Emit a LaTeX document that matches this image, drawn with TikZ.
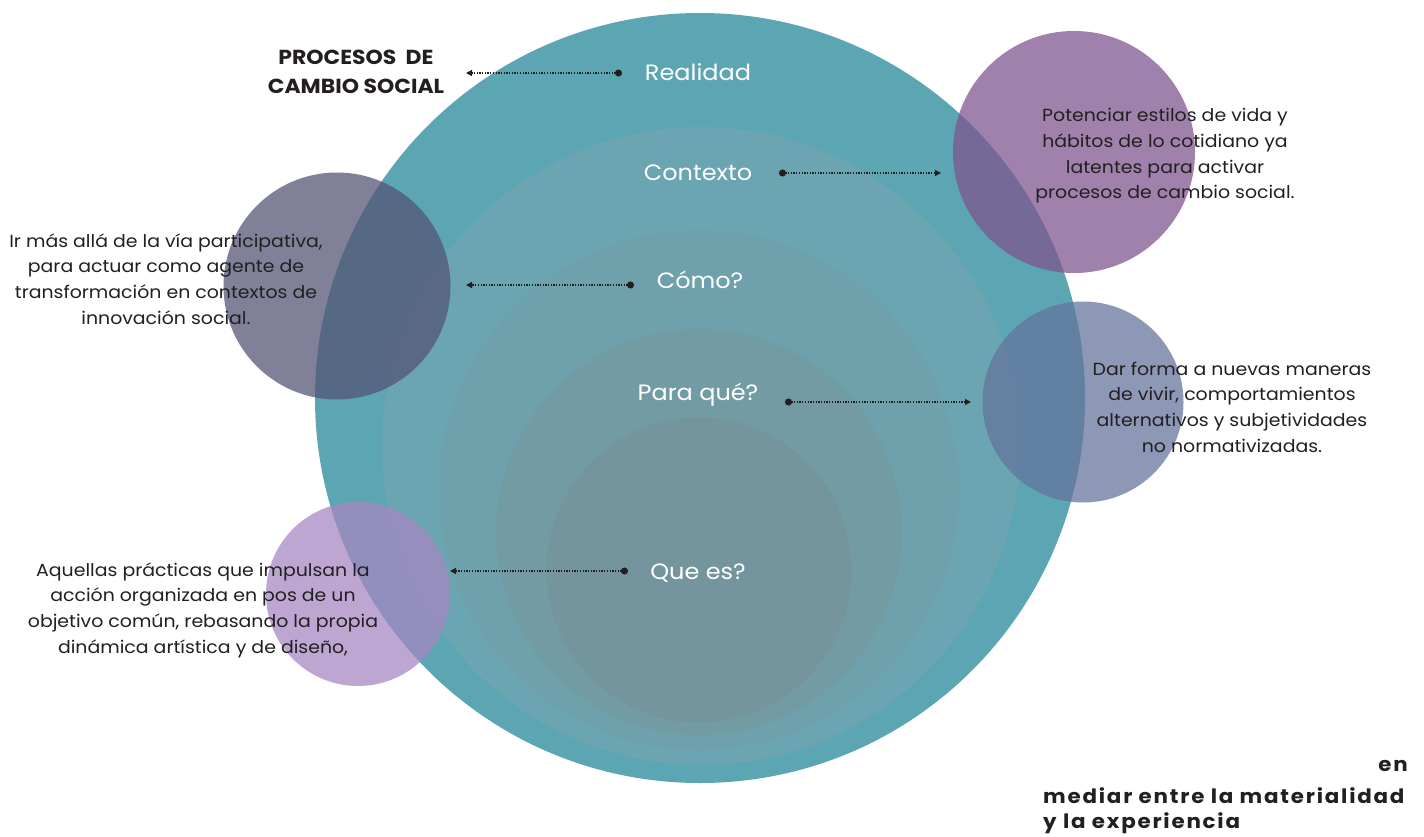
\documentclass[tikz,border=0pt]{standalone}
\usepackage{fontspec}
\setmainfont{Poppins}[FakeStretch=1.08]
\usetikzlibrary{arrows.meta}
\definecolor{tealA}{HTML}{5CA6B4}
\definecolor{tealB}{HTML}{6BA5B1}
\definecolor{tealC}{HTML}{6FA1AC}
\definecolor{tealD}{HTML}{729BA4}
\definecolor{tealE}{HTML}{74959D}
\definecolor{slate}{RGB}{83,85,117}
\definecolor{plum}{RGB}{126,85,142}
\definecolor{steel}{RGB}{101,116,156}
\definecolor{lav}{RGB}{166,135,194}
\definecolor{ink}{HTML}{231F20}
\begin{document}
\begin{tikzpicture}[x=1pt,y=-1pt,
  layer/.style={circle,inner sep=0pt,minimum size=#1,draw=none},
  sat/.style={circle,inner sep=0pt,minimum size=#1,draw=none,fill opacity=0.74},
  lbl/.style={text=white,font=\fontsize{22.2}{26}\selectfont,inner sep=0pt},
  body/.style={text=ink,align=center,font=\fontsize{17.5}{25.7}\selectfont,inner sep=0pt},
  tail/.style={text=ink,font=\fontsize{19.8}{25.5}\selectfont\bfseries\addfontfeatures{LetterSpace=9},inner sep=0pt},
  conn/.style={draw=ink,line width=1.3pt,dash pattern=on 1.3pt off 1.4pt,
    {Circle[length=7pt,width=7pt]}-{Triangle[length=6pt,width=6pt]}}]
\useasboundingbox (0,0) rectangle (1424,836);
% concentric layers
\node[layer=770pt,fill=tealA] (realidad) at (700,398) {};
\node[layer=638pt,fill=tealB] (contexto) at (701,446) {};
\node[layer=520pt,fill=tealC] (como) at (699,490) {};
\node[layer=406pt,fill=tealD] (paraque) at (699,532) {};
\node[layer=305pt,fill=tealE] (quees) at (699,570) {};
% satellite circles
\node[sat=227pt,fill=slate] (s1) at (337,286) {};
\node[sat=242pt,fill=plum] (s2) at (1074,152) {};
\node[sat=201pt,fill=steel] (s3) at (1083,402) {};
\node[sat=184pt,fill=lav] (s4) at (358,594) {};
% labels
\node[lbl] (lr) at (698,72) {Realidad};
\node[lbl] (lc) at (698,173) {Contexto};
\node[lbl] (lm) at (700,280) {Cómo?};
\node[lbl] (lp) at (698,395) {Para qué?};
\node[lbl] (lq) at (698,573) {Que es?};
% texts
\node[body,font=\fontsize{20.3}{29}\selectfont\bfseries] (t0) at (356,72) {PROCESOS\ \ DE\\CAMBIO SOCIAL};
\node[body] (t1) at (1165,156) {Potenciar estilos de vida y\\hábitos de lo cotidiano ya\\latentes para activar\\procesos de cambio social.};
\node[body] (t2) at (166,279) {Ir más allá de la vía participativa,\\para actuar como agente de\\transformación en contextos de\\innovación social.};
\node[body] (t3) at (1232,407) {Dar forma a nuevas maneras\\de vivir, comportamientos\\alternativos y subjetividades\\no normativizadas.};
\node[body] (t4) at (203,610) {Aquellas prácticas que impulsan la\\acción organizada en pos de un\\objetivo común, rebasando la propia\\dinámica artística y de diseño,};
\node[tail,anchor=north east,align=right] (t5) at (1408,760) {en};
\node[tail,anchor=north west,align=left] (t6) at (1043,787) {mediar entre la materialidad\\y la experiencia};
% connectors
\coordinate (a1) at (622,73); \coordinate (b1) at (466,73);
\coordinate (a2) at (779,173); \coordinate (b2) at (941,173);
\coordinate (a3) at (634,285); \coordinate (b3) at (466,285);
\coordinate (a4) at (785,402); \coordinate (b4) at (971,402);
\coordinate (a5) at (628,571); \coordinate (b5) at (450,571);
\draw[conn] (a1) -- (b1);
\draw[conn] (a2) -- (b2);
\draw[conn] (a3) -- (b3);
\draw[conn] (a4) -- (b4);
\draw[conn] (a5) -- (b5);
\end{tikzpicture}
\end{document}
